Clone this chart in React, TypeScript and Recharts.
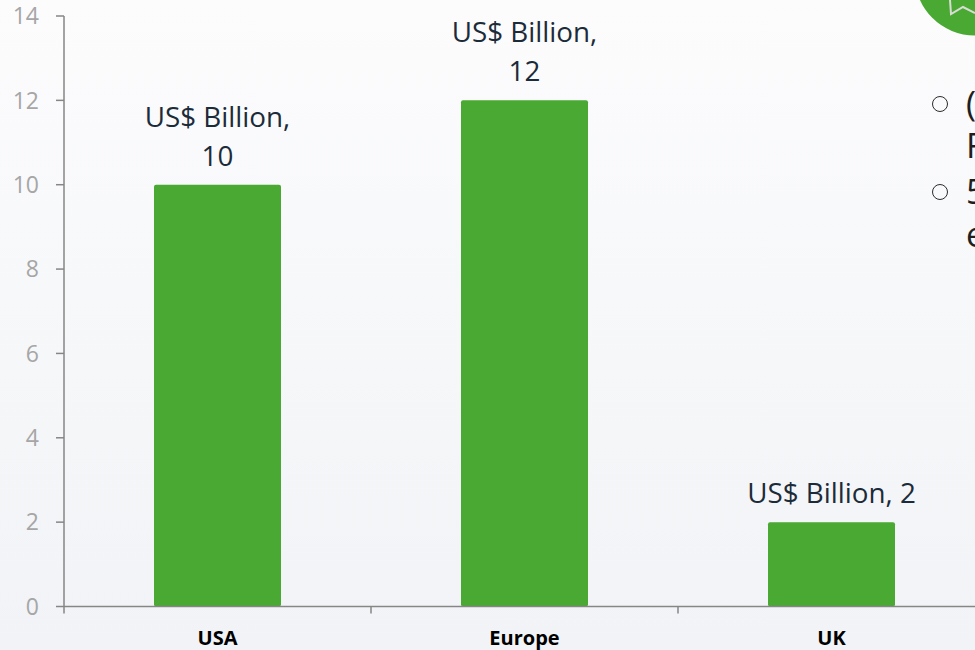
import { BarChart, Bar, XAxis, YAxis, LabelList } from 'recharts';

const regions = ['USA', 'Europe', 'UK'];
const billions = [10, 12, 2];
const yTicks = [0, 2, 4, 6, 8, 10, 12, 14];
const seriesName = 'US$ Billion';
// clipped text from the slide behind the chart
const sideText = [
  { text: '(', top: 81 },
  { text: 'F', top: 123 },
  { text: '5', top: 169 },
  { text: 'e', top: 212 },
];
const bulletTops = [97, 185];

const chartData = regions.map((name, i) => ({ name, value: billions[i] }));

const BAND = 307;
const FONT = '"Open Sans", sans-serif';

function RegionTick({ x, y, payload }: any) {
  const left = x - BAND / 2;
  return (
    <g>
      <line x1={left} x2={left} y1={y - 8} y2={y - 1} stroke="#868686" strokeWidth={1.5} />
      <text x={x} y={y + 30} textAnchor="middle" fontFamily={FONT} fontWeight={700} fontSize={20} fill="#000">
        {payload.value}
      </text>
    </g>
  );
}

function ValueLabel({ x, y, width, value }: any) {
  const cx = x + width / 2;
  if (value < 5) {
    return (
      <text x={cx} y={y - 19} textAnchor="middle" fontFamily={FONT} fontSize={27.8} fill="#1c2b39">
        {`${seriesName}, ${value}`}
      </text>
    );
  }
  return (
    <text textAnchor="middle" fontFamily={FONT} fontSize={27.8} fill="#1c2b39">
      <tspan x={cx} y={y - 58}>{`${seriesName},`}</tspan>
      <tspan x={cx} y={y - 19}>{value}</tspan>
    </text>
  );
}

export default function App() {
  return (
    <div
      style={{
        position: 'absolute',
        left: 0,
        top: 0,
        width: 975,
        height: 650,
        overflow: 'hidden',
        background: 'linear-gradient(180deg, #fcfcfd 0%, #f1f3f6 100%)',
      }}
    >
      <BarChart
        width={1000}
        height={650}
        data={chartData}
        margin={{ top: 16, right: 15, bottom: 0, left: 0 }}
      >
        <XAxis
          dataKey="name"
          axisLine={{ stroke: '#868686', strokeWidth: 1.5 }}
          tickLine={false}
          tick={<RegionTick />}
          interval={0}
          height={43.5}
        />
        <YAxis
          type="number"
          domain={[0, 14]}
          ticks={yTicks}
          width={64}
          axisLine={{ stroke: '#868686', strokeWidth: 1.5 }}
          tickLine={{ stroke: '#868686', strokeWidth: 1.5 }}
          tickSize={8}
          tickMargin={17}
          tick={{ fill: '#a6a6a6', fontSize: 23, fontFamily: FONT }}
        />
        <Bar dataKey="value" fill="#49a932" barSize={127} radius={2} isAnimationActive={false}>
          <LabelList dataKey="value" content={<ValueLabel />} />
        </Bar>
      </BarChart>

      {bulletTops.map((top) => (
        <div
          key={top}
          style={{
            position: 'absolute',
            left: 932,
            top: top - 1,
            width: 14,
            height: 14,
            borderRadius: '50%',
            border: '1.8px solid #2b2b2b',
          }}
        />
      ))}
      {sideText.map((t) => (
        <div
          key={t.text}
          style={{
            position: 'absolute',
            left: 966,
            top: t.top,
            fontFamily: FONT,
            fontSize: 34,
            lineHeight: '44px',
            color: '#1f1f1f',
          }}
        >
          {t.text}
        </div>
      ))}
      <svg width={975} height={60} style={{ position: 'absolute', left: 0, top: 0 }}>
        <circle cx={975} cy={-25} r={60.5} fill="#49a932" />
        <path d="M 950 0 L 951 14 L 963 7 L 975 13" fill="none" stroke="#d8dcd4" strokeWidth={2} />
      </svg>
    </div>
  );
}
